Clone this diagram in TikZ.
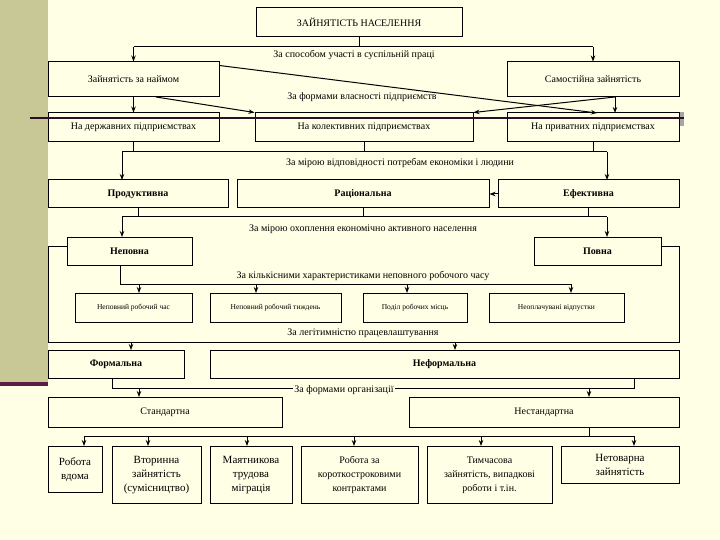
\documentclass[tikz,border=0pt]{standalone}
\usepackage{fontspec}
\setmainfont{Liberation Serif}
\usetikzlibrary{positioning,arrows.meta,backgrounds}
\definecolor{cream}{RGB}{255,255,230}
\definecolor{olive}{RGB}{200,200,150}
\definecolor{plum}{RGB}{90,30,70}
\begin{document}
\begin{tikzpicture}[x=1pt, y=-1pt]
    \tikzset{
        box/.style = {rectangle, draw=black, line width=1pt, fill=cream, inner sep=1pt, align=center,
                      font=\fontsize{10}{12}\selectfont},
        bbox/.style = {box, font=\fontsize{10}{12}\selectfont\bfseries},
        sbox/.style = {box, font=\fontsize{7.5}{9}\selectfont},
        lbox/.style = {box, font=\fontsize{11}{14}\selectfont},
        arrow/.style = {line width=1pt, -{Stealth[length=6pt,width=4.5pt]}},
        line/.style = {line width=1pt},
        lbl/.style = {font=\fontsize{10}{12}\selectfont, inner sep=1pt}
    }
    \useasboundingbox (0,0) rectangle (720,540);
    % slide background
    \fill[cream] (0,0) rectangle (720,540);
    \fill[olive] (0,0) rectangle (48,382);
    \fill[black!35] (540,112) rectangle (684,126);

    % level 1 and 2
    \node[box, minimum width=206, minimum height=29] (pop) at (359,22.5) {ЗАЙНЯТІСТЬ НАСЕЛЕННЯ};
    \node[box, minimum width=171, minimum height=35] (hire) at (133.5,79.5) {Зайнятість за наймом};
    \node[box, minimum width=172, minimum height=35] (self) at (593,79.5) {Самостійна зайнятість};
    \coordinate (bus1) at (359,47);
    \draw [line] (pop) -- (bus1);
    \draw [line] (hire.north |- bus1) -- (self.north |- bus1);
    \draw [arrow] (hire.north |- bus1) -- (hire);
    \draw [arrow] (self.north |- bus1) -- (self);
    \node[lbl] (lbl1) at (354,55) {За способом участі в суспільній праці};

    % ownership
    \node[box, minimum width=171, minimum height=29] (state) at (133.5,127.5) {На державних підприємствах};
    \node[box, minimum width=218, minimum height=29] (coll) at (364,127.5) {На колективних підприємствах};
    \node[box, minimum width=172, minimum height=29] (priv) at (593,127.5) {На приватних підприємствах};
    \node[lbl] (lbl2) at (362,97) {За формами власності підприємств};
    \draw [line width=1.6pt, plum!50!black] (30,118) -- (684,118);
    \draw [arrow] (hire.south -| state.north) -- (state);
    \draw [arrow] (hire.north east) ++(0,4) -- (597,113);
    \draw [arrow] (156,97) -- (coll.north west);
    \draw [arrow] (615,97) -- (coll.north east);
    \draw [arrow] (self.south -| 615,0) -- (615,113);

    % needs
    \node[bbox, minimum width=180, minimum height=28] (prod) at (138,194) {Продуктивна};
    \node[bbox, minimum width=252, minimum height=28] (rat) at (363,194) {Раціональна};
    \node[bbox, minimum width=181, minimum height=28] (eff) at (588.5,194) {Ефективна};
    \coordinate (bus2) at (0,152);
    \draw [line] (state.south) -- (state.south |- bus2);
    \draw [line] (coll.south) -- (coll.south |- bus2);
    \draw [line] (priv.south) -- (priv.south |- bus2);
    \draw [line] (122,152) -- (607,152);
    \draw [arrow] (122,152) -- (122,180);
    \draw [arrow] (607,152) -- (607,180);
    \node[lbl] (lbl3) at (400,163) {За мірою відповідності потребам економіки і людини};
    \draw [arrow] (eff.west) -- (rat.east);

    % coverage
    \node[bbox, minimum width=125, minimum height=28] (part) at (129.5,251) {Неповна};
    \node[bbox, minimum width=127, minimum height=28] (full) at (597.5,251) {Повна};
    \coordinate (bus3) at (0,217);
    \draw [line] (prod.south) -- (prod.south |- bus3);
    \draw [line] (rat.south) -- (rat.south |- bus3);
    \draw [line] (eff.south) -- (eff.south |- bus3);
    \draw [line] (122,217) -- (607,217);
    \draw [arrow] (122,217) -- (122,237);
    \draw [arrow] (607,217) -- (607,237);
    \node[lbl] (lbl4) at (363,229) {За мірою охоплення економічно активного населення};
    \draw [line] (part.west |- 0,246) -- (48,246) -- (48,342) -- (679,342) -- (679,246) -- (full.east |- 0,246);

    % part time
    \node[sbox, minimum width=117, minimum height=29] (ptime) at (133.5,307.5) {Неповний робочий час};
    \node[sbox, minimum width=131, minimum height=29] (pweek) at (275.5,307.5) {Неповний робочий тиждень};
    \node[sbox, minimum width=104, minimum height=29] (split) at (415,307.5) {Поділ робочих місць};
    \node[sbox, minimum width=135, minimum height=29] (leave) at (556.5,307.5) {Неоплачувані відпустки};
    \coordinate (bus4) at (120,284);
    \draw [line] (120,265) -- (bus4) -- (571,284);
    \draw [arrow] (139,284) -- (139,293);
    \draw [arrow] (256,284) -- (256,293);
    \draw [arrow] (407,284) -- (407,293);
    \draw [arrow] (571,284) -- (571,293);
    \node[lbl] (lbl5) at (363,276) {За кількісними характеристиками неповного робочого часу};

    % legitimacy
    \node[bbox, minimum width=136, minimum height=28] (form) at (116,364) {Формальна};
    \node[bbox, minimum width=469, minimum height=28] (inf) at (444.5,364) {Неформальна};
    \node[lbl] (lbl6) at (363,333) {За легітимністю працевлаштування};
    \draw [arrow] (131,342) -- (131,350);
    \draw [arrow] (455,342) -- (455,350);
    \draw [plum, line width=4pt] (0,384) -- (48,384);

    % organisation
    \node[box, minimum width=234, minimum height=30] (std) at (165,412) {Стандартна};
    \node[box, minimum width=270, minimum height=30] (nstd) at (544,412) {Нестандартна};
    \draw [line] (112,378) -- (112,388) -- (634,388) -- (634,378);
    \draw [arrow] (139,388) -- (139,397);
    \draw [arrow] (589,388) -- (589,397);
    \node[lbl, fill=cream] (lbl7) at (344,390) {За формами організації};

    % forms
    \node[lbox, minimum width=54, minimum height=46, anchor=north] (home) at (75,446) {Робота\\вдома};
    \node[lbox, minimum width=89, minimum height=57, anchor=north] (second) at (156.5,446) {Вторинна\\зайнятість\\(сумісництво)};
    \node[lbox, minimum width=82, minimum height=57, anchor=north] (pendel) at (251,446) {Маятникова\\трудова\\міграція};
    \node[lbox, minimum width=117, minimum height=57, anchor=north, font=\fontsize{10}{14}\selectfont] (short) at (359.5,446) {Робота за\\короткостроковими\\контрактами};
    \node[lbox, minimum width=125, minimum height=57, anchor=north, font=\fontsize{10}{14}\selectfont] (temp) at (489.5,446) {Тимчасова\\зайнятість, випадкові\\роботи і т.ін.};
    \node[lbox, minimum width=118, minimum height=37, anchor=north] (nontr) at (620,446) {Нетоварна\\зайнятість};
    \coordinate (bus5) at (0,436);
    \draw [line] (nstd.south -| 589,0) -- (589,436);
    \draw [line] (84,436) -- (634,436);
    \draw [arrow] (84,436) -- (84,446);
    \draw [arrow] (148,436) -- (148,446);
    \draw [arrow] (247,436) -- (247,446);
    \draw [arrow] (354,436) -- (354,446);
    \draw [arrow] (481,436) -- (481,446);
    \draw [arrow] (634,436) -- (634,446);
\end{tikzpicture}
\end{document}
